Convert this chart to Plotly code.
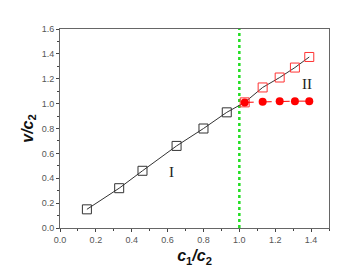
import plotly.graph_objects as go

x_I = [0.15, 0.33, 0.46, 0.65, 0.80, 0.93]
y_I = [0.15, 0.32, 0.46, 0.66, 0.80, 0.93]
x_II = [1.03, 1.13, 1.225, 1.31, 1.39]
y_II_sq = [1.01, 1.13, 1.21, 1.29, 1.375]
y_II_circ = [1.01, 1.015, 1.02, 1.02, 1.02]

fig = go.Figure()
fig.add_trace(go.Scatter(x=[1.0, 1.0], y=[0, 1.6], mode="lines",
                         line=dict(color="#22dd22", width=2.5, dash="dot"), showlegend=False))
fig.add_trace(go.Scatter(x=x_I + x_II, y=y_I + y_II_sq, mode="lines",
                         line=dict(color="#333333", width=1), showlegend=False))
fig.add_trace(go.Scatter(x=x_I, y=y_I, mode="markers",
                         marker=dict(symbol="square-open", size=9, color="#333333", line=dict(width=1)),
                         showlegend=False))
fig.add_trace(go.Scatter(x=x_II, y=y_II_sq, mode="markers",
                         marker=dict(symbol="square-open", size=9, color="#ff3333", line=dict(width=1)),
                         showlegend=False))
fig.add_trace(go.Scatter(x=x_II, y=y_II_circ, mode="lines+markers",
                         line=dict(color="#ff0000", width=1, dash="dash"),
                         marker=dict(symbol="circle", size=8, color="#ff0000"), showlegend=False))

fig.add_annotation(x=0.62, y=0.45, text="I", showarrow=False,
                   font=dict(family="Liberation Serif", size=15, color="#222"))
fig.add_annotation(x=1.38, y=1.16, text="II", showarrow=False,
                   font=dict(family="Liberation Serif", size=15, color="#222"))

axis_common = dict(showline=True, linecolor="#666", linewidth=1, mirror=True,
                   ticks="outside", ticklen=3, tickcolor="#444", showgrid=False, zeroline=False,
                   tickfont=dict(family="Liberation Sans", size=9, color="#555"),
                   minor=dict(ticks="outside", ticklen=2, tickcolor="#444"))

fig.update_xaxes(range=[0, 1.5], dtick=0.2, tickformat=".1f",
                 title=dict(text="<b><i>c</i><sub>1</sub><i>/c</i><sub>2</sub></b>",
                            font=dict(family="Liberation Sans", size=16, color="#111"), standoff=6),
                 minor_dtick=0.1, **axis_common)
fig.update_yaxes(range=[0, 1.6], dtick=0.2, tickformat=".1f",
                 title=dict(text="<b><i>v/c</i><sub>2</sub></b>",
                            font=dict(family="Liberation Sans", size=16, color="#111"), standoff=4),
                 minor_dtick=0.1, **axis_common)

fig.update_layout(width=356, height=271, margin=dict(l=52, r=35, t=21, b=51),
                  plot_bgcolor="white", paper_bgcolor="white")
fig.write_html("out.html")
